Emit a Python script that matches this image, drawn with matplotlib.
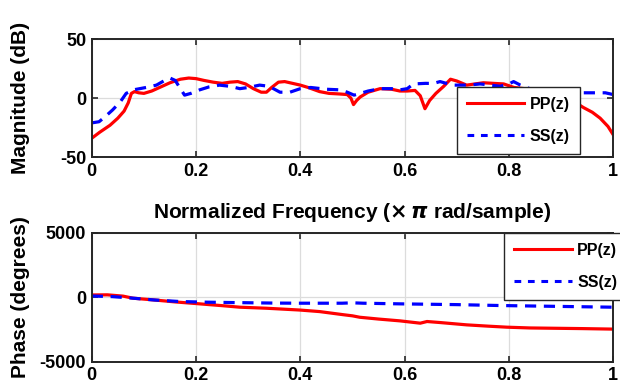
import numpy as np
import matplotlib
matplotlib.use("Agg")
import matplotlib.pyplot as plt
from matplotlib.lines import Line2D

plt.rcParams['font.family'] = ['Liberation Sans', 'DejaVu Sans']
plt.rcParams['font.weight'] = 'bold'

# magnitude response (dB) vs normalized frequency
pp_mag_x = [0.000, 0.015, 0.035, 0.050, 0.062, 0.070, 0.076, 0.082, 0.090, 0.100,
            0.115, 0.130, 0.150, 0.170, 0.186, 0.200, 0.215, 0.233, 0.250, 0.265,
            0.280, 0.295, 0.310, 0.325, 0.335, 0.345, 0.358, 0.370, 0.385, 0.400,
            0.415, 0.437, 0.455, 0.475, 0.490, 0.497, 0.502, 0.508, 0.515, 0.530,
            0.553, 0.575, 0.591, 0.605, 0.620, 0.630, 0.639, 0.648, 0.660, 0.675,
            0.688, 0.700, 0.719, 0.735, 0.751, 0.770, 0.790, 0.810, 0.830, 0.850,
            0.870, 0.900, 0.925, 0.943, 0.960, 0.975, 0.990, 1.000]
pp_mag_y = [-34, -29, -23, -17, -11, -4, 4, 5.5, 4.5, 4,
            6, 9, 13, 16, 17, 16.5, 15, 13.5, 12.5, 13.5,
            14, 12, 8, 5, 5, 9, 13.5, 14, 12.5, 11,
            9, 5.5, 4, 3.5, 3, 0, -5.5, -2, 1, 5,
            8, 7.5, 6, 6, 6.5, 2, -9, -2, 4, 10,
            16, 14.5, 11, 12, 13, 12.5, 12, 9, 8, 7,
            5, 2, -3, -8, -12, -17, -24, -31]

ss_mag_x = [0.000, 0.014, 0.025, 0.040, 0.055, 0.066, 0.080, 0.092, 0.110, 0.124,
            0.140, 0.150, 0.160, 0.170, 0.178, 0.190, 0.207, 0.225, 0.245, 0.265,
            0.284, 0.300, 0.322, 0.340, 0.361, 0.380, 0.400, 0.420, 0.450, 0.476,
            0.490, 0.503, 0.515, 0.530, 0.553, 0.575, 0.591, 0.605, 0.617, 0.640,
            0.655, 0.668, 0.680, 0.694, 0.720, 0.745, 0.765, 0.783, 0.800, 0.809,
            0.822, 0.840, 0.870, 0.900, 0.930, 0.960, 0.985, 1.000]
ss_mag_y = [-21, -20, -16, -10, -3, 4, 7, 8, 9.5, 11,
            15, 17, 15, 8, 2.5, 4, 7, 9.5, 11, 10,
            8, 9, 11, 10, 5, 5, 8, 9, 7.5, 7,
            5, 2.5, 4, 6, 8, 8, 7, 8, 12, 12.5,
            12.4, 14, 12.5, 11, 11, 12, 11, 10, 12, 14,
            11, 8, 6, 5, 4.5, 4.5, 4.5, 3]

# phase response (degrees)
pp_ph_x = [0.000, 0.030, 0.060, 0.079, 0.120, 0.160, 0.207, 0.250, 0.284, 0.335,
           0.399, 0.437, 0.482, 0.500, 0.514, 0.550, 0.591, 0.630, 0.643, 0.668,
           0.719, 0.760, 0.796, 0.840, 0.879, 0.940, 1.000]
pp_ph_y = [190, 200, 100, -60, -200, -350, -500, -640, -760, -840,
           -980, -1100, -1340, -1430, -1540, -1680, -1820, -2000, -1870, -1950,
           -2130, -2230, -2310, -2370, -2390, -2420, -2460]

ss_ph_x = [0.000, 0.040, 0.079, 0.120, 0.169, 0.220, 0.271, 0.350, 0.400, 0.480,
           0.500, 0.520, 0.591, 0.700, 0.783, 0.900, 1.000]
ss_ph_y = [110, 60, -60, -200, -320, -370, -400, -440, -450, -450,
           -420, -450, -500, -560, -630, -700, -760]

xticks = [0, 0.2, 0.4, 0.6, 0.8, 1]
xticklabels = ['0', '0.2', '0.4', '0.6', '0.8', '1']

fig = plt.figure(figsize=(6.2, 3.87), dpi=100, facecolor='w')
ax1 = fig.add_axes([0.148, 0.594, 0.841, 0.305])
ax2 = fig.add_axes([0.148, 0.065, 0.841, 0.333])

def style(ax, yticks, yticklabels):
    ax.set_xlim(0, 1)
    ax.set_xticks(xticks)
    ax.set_xticklabels(xticklabels)
    ax.set_yticks(yticks)
    ax.set_yticklabels(yticklabels)
    ax.grid(True, color='#dcdcdc', lw=0.9)
    ax.set_axisbelow(True)
    ax.tick_params(direction='in', length=4, width=1.2, top=True, right=True,
                   labelsize=13, pad=4, colors='#262626', labelcolor='k')
    for s in ax.spines.values():
        s.set_linewidth(1.4)
        s.set_color('#262626')

red_lw, blue_lw = 2.3, 2.3

ax1.plot(pp_mag_x, pp_mag_y, color='#ff0000', lw=red_lw, solid_joinstyle='round')
ax1.plot(ss_mag_x, ss_mag_y, color='#0000ff', lw=blue_lw, ls=(0, (3.5, 2.4)))
ax1.set_ylim(-50, 50)
style(ax1, [-50, 0, 50], ['-50', '0', '50'])
ax1.set_ylabel('Magnitude (dB)', fontsize=15, fontweight='bold')
ax1.yaxis.set_label_coords(-0.118, 0.5)

ax2.plot(pp_ph_x, pp_ph_y, color='#ff0000', lw=red_lw)
ax2.plot(ss_ph_x, ss_ph_y, color='#0000ff', lw=blue_lw, ls=(0, (3.5, 2.4)))
ax2.set_ylim(-5000, 5000)
style(ax2, [-5000, 0, 5000], ['-5000', '0', '5000'])
ax2.set_ylabel('Phase (degrees)', fontsize=15, fontweight='bold')
ax2.yaxis.set_label_coords(-0.118, 0.5)
ax2.set_title(r'Normalized Frequency ($\times\,\pi$ rad/sample)', fontsize=15,
              fontweight='bold', pad=11)

handles = [Line2D([], [], color='#ff0000', lw=2.2),
           Line2D([], [], color='#0000ff', lw=2.2, ls=(0, (2.2, 2.2)))]
labels = ['PP(z)', 'SS(z)']

for ax, anchor in [(ax1, (0.70, 0.593)), (ax2, (0.791, 1.0))]:
    leg = ax.legend(handles, labels, loc='upper left', bbox_to_anchor=anchor,
                    borderaxespad=0, fancybox=False, framealpha=1,
                    edgecolor='#262626', handlelength=3.6, handletextpad=0.35,
                    labelspacing=1.05, borderpad=0.62,
                    prop={'size': 11.5, 'weight': 'bold'})
    leg.get_frame().set_linewidth(1.0)

fig.savefig('out.png', dpi=100)
